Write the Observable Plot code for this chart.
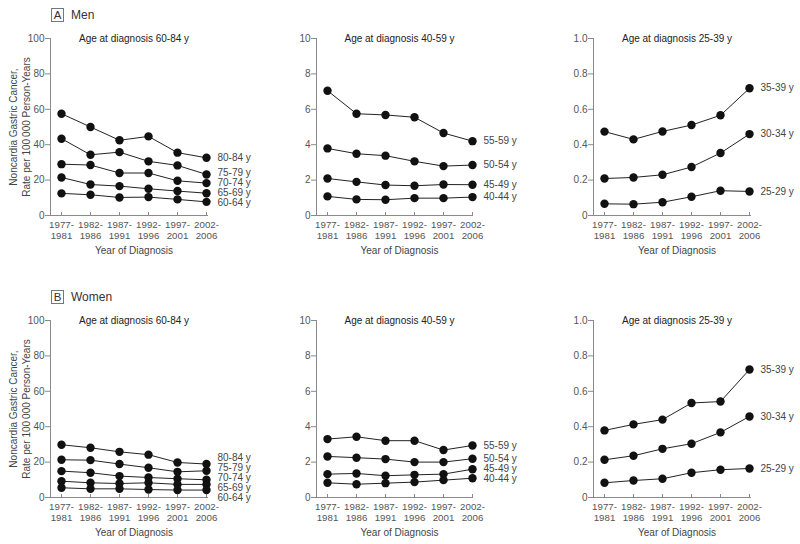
<!DOCTYPE html>
<html><head><meta charset="utf-8">
<script src="https://cdn.jsdelivr.net/npm/d3@7"></script>
<script src="https://cdn.jsdelivr.net/npm/@observablehq/plot@0.6"></script>
<style>
body{margin:0;background:#fff;font-family:"Liberation Sans",Arial,sans-serif;}
#root{position:relative;width:800px;height:544px;overflow:hidden;background:#fff;}
.panel{position:absolute;}
.tag{position:absolute;font-size:12px;color:#333;display:flex;align-items:center;}
.tag .box{display:inline-block;box-sizing:border-box;border:1px solid #777;width:13px;height:14px;text-align:center;line-height:12px;font-size:11.5px;margin-right:7px;}
</style></head><body><div id="root"></div>
<script>
// ---- data ----
const periods = ["1977-1981","1982-1986","1987-1991","1992-1996","1997-2001","2002-2006"];
const periodTicks = ["1977-\n1981","1982-\n1986","1987-\n1991","1992-\n1996","1997-\n2001","2002-\n2006"];

const groupsOld = ["80-84 y","75-79 y","70-74 y","65-69 y","60-64 y"];
const groupsMid = ["55-59 y","50-54 y","45-49 y","40-44 y"];
const groupsYoung = ["35-39 y","30-34 y","25-29 y"];

const titles = ["Age at diagnosis 60-84 y","Age at diagnosis 40-59 y","Age at diagnosis 25-39 y"];
const yMaxes = [100, 10, 1];
const yTicks100 = [0,20,40,60,80,100];
const yTicks10 = [0,2,4,6,8,10];
const yTicks1 = [0,0.2,0.4,0.6,0.8,1.0];
const yTickLabels1 = ["0","0.2","0.4","0.6","0.8","1.0"];

// Men
const menOld = [
  [57.5, 50.0, 42.5, 44.7, 35.5, 32.6],
  [43.4, 34.3, 35.8, 30.6, 28.3, 23.2],
  [29.0, 28.5, 24.0, 24.0, 19.6, 18.3],
  [21.5, 17.5, 16.6, 15.1, 13.8, 12.6],
  [12.5, 11.7, 10.2, 10.4,  9.1,  7.7]
];
const menMid = [
  [7.05, 5.75, 5.68, 5.55, 4.66, 4.20],
  [3.79, 3.49, 3.38, 3.06, 2.79, 2.85],
  [2.09, 1.90, 1.72, 1.68, 1.75, 1.74],
  [1.08, 0.91, 0.89, 0.98, 0.98, 1.04]
];
const menYoung = [
  [0.474, 0.430, 0.475, 0.511, 0.566, 0.719],
  [0.209, 0.215, 0.230, 0.274, 0.353, 0.460],
  [0.066, 0.064, 0.075, 0.106, 0.140, 0.136]
];
// Women
const womenOld = [
  [29.8, 28.1, 25.8, 24.2, 19.8, 18.9],
  [21.3, 21.1, 18.9, 16.8, 14.5, 15.1],
  [14.9, 14.0, 12.1, 11.3, 10.6, 10.0],
  [ 9.2,  8.3,  7.9,  8.3,  7.4,  7.4],
  [ 5.5,  4.9,  4.9,  4.5,  4.2,  4.2]
];
const womenMid = [
  [3.30, 3.43, 3.21, 3.21, 2.68, 2.94],
  [2.32, 2.25, 2.17, 2.00, 2.00, 2.19],
  [1.32, 1.36, 1.23, 1.28, 1.32, 1.60],
  [0.83, 0.75, 0.81, 0.87, 0.98, 1.09]
];
const womenYoung = [
  [0.379, 0.413, 0.440, 0.534, 0.542, 0.723],
  [0.213, 0.236, 0.275, 0.304, 0.368, 0.458],
  [0.083, 0.096, 0.106, 0.140, 0.157, 0.164]
];

const sexes = ["Men","Women"];
const sexTags = ["A","B"];
const yAxisTitle = "Noncardia Gastric Cancer,\nRate per 100\u2009000 Person-Years";
const xAxisTitle = "Year of Diagnosis";

// ---- layout ----
const FONT = '"Liberation Sans", Arial, sans-serif';
const cols = [
  {left: 0,   marginLeft: 50, marginRight: 63},
  {left: 270, marginLeft: 46, marginRight: 68},
  {left: 530, marginLeft: 63, marginRight: 50}
];
const rows = [
  {top: 0,   height: 270, marginBottom: 55},
  {top: 282, height: 262, marginBottom: 47}
];
const MT = 38, FRAME_H = 177;

function spread(vals, gap) {
  const p = vals.slice();
  for (let it = 0; it < 500; it++) {
    let moved = false;
    for (let i = 1; i < p.length; i++) {
      const d = p[i] - p[i - 1];
      if (d < gap - 0.001) { const s = (gap - d) / 2; p[i - 1] -= s; p[i] += s; moved = true; }
    }
    if (!moved) break;
  }
  return p;
}

const root = document.getElementById("root");
const allValues = [[menOld, menMid, menYoung],[womenOld, womenMid, womenYoung]];
const allGroups = [groupsOld, groupsMid, groupsYoung];
const allTicks = [yTicks100, yTicks10, yTicks1];

allValues.forEach((rowVals, r) => {
  const R = rows[r];
  const tag = document.createElement("div");
  tag.className = "tag";
  tag.style.left = "51px"; tag.style.top = (R.top + 8) + "px";
  tag.innerHTML = `<span class="box">${sexTags[r]}</span><span>${sexes[r]}</span>`;
  root.appendChild(tag);

  rowVals.forEach((values, c) => {
    const C = cols[c];
    const groups = allGroups[c];
    const yMax = yMaxes[c];
    const data = groups.flatMap((g, i) => values[i].map((v, j) => ({group: g, period: periods[j], value: v})));
    const last = groups.map((g, i) => ({group: g, value: values[i][5]}));
    last.sort((a, b) => b.value - a.value);
    const px = last.map(d => FRAME_H * (1 - d.value / yMax));
    const sp = spread(px, 10);
    const labels = last.map((d, i) => ({group: d.group, period: periods[5], labelY: yMax * (1 - sp[i] / FRAME_H)}));

    const marks = [
      Plot.frame({anchor: "left", stroke: "#8a8a8a"}),
      Plot.frame({anchor: "bottom", stroke: "#8a8a8a"}),
      Plot.axisY({
        ticks: allTicks[c], tickSize: 5, tickPadding: 1, stroke: "#8a8a8a",
        tickFormat: c === 2 ? (d => yTickLabels1[Math.round(d * 5)]) : (d => String(d)),
        label: null, fill: "#555", fontSize: 10
      }),
      Plot.axisX({
        tickSize: -3, tickPadding: 7, stroke: "#8a8a8a",
        tickFormat: p => periodTicks[periods.indexOf(p)],
        label: null, fill: "#555", fontSize: 9.7, lineHeight: 1.2
      }),
      Plot.line(data, {x: "period", y: "value", z: "group", stroke: "#222", strokeWidth: 1}),
      Plot.dot(data, {x: "period", y: "value", r: 4.2, fill: "#111", stroke: "none"}),
      Plot.text(labels, {x: "period", y: "labelY", text: "group", dx: 11, textAnchor: "start", fill: "#444", fontSize: 10}),
      Plot.text([titles[c]], {frameAnchor: "top", dx: 5, text: d => d, fill: "#222", fontSize: 10, lineAnchor: "middle"}),
      Plot.text([xAxisTitle], {frameAnchor: "bottom", dx: 5, dy: 35, text: d => d, fill: "#444", fontSize: 10, lineAnchor: "middle"})
    ];
    if (c === 0) {
      marks.push(Plot.text([yAxisTitle], {frameAnchor: "left", dx: -31.5, rotate: -90, text: d => d, fill: "#444", fontSize: 10, lineHeight: 1.3, lineAnchor: "middle", textAnchor: "middle"}));
    }
    const chart = Plot.plot({
      width: 270, height: R.height,
      marginLeft: C.marginLeft, marginRight: C.marginRight, marginTop: MT, marginBottom: R.marginBottom,
      x: {type: "point", domain: periods, padding: 0, insetLeft: 10, insetRight: 0},
      y: {domain: [0, yMax]},
      style: {fontFamily: FONT, fontSize: "10px", color: "#555", background: "transparent", overflow: "visible"},
      marks
    });
    chart.classList.add("panel");
    chart.style.left = C.left + "px";
    chart.style.top = R.top + "px";
    root.appendChild(chart);
  });
});
</script></body></html>
